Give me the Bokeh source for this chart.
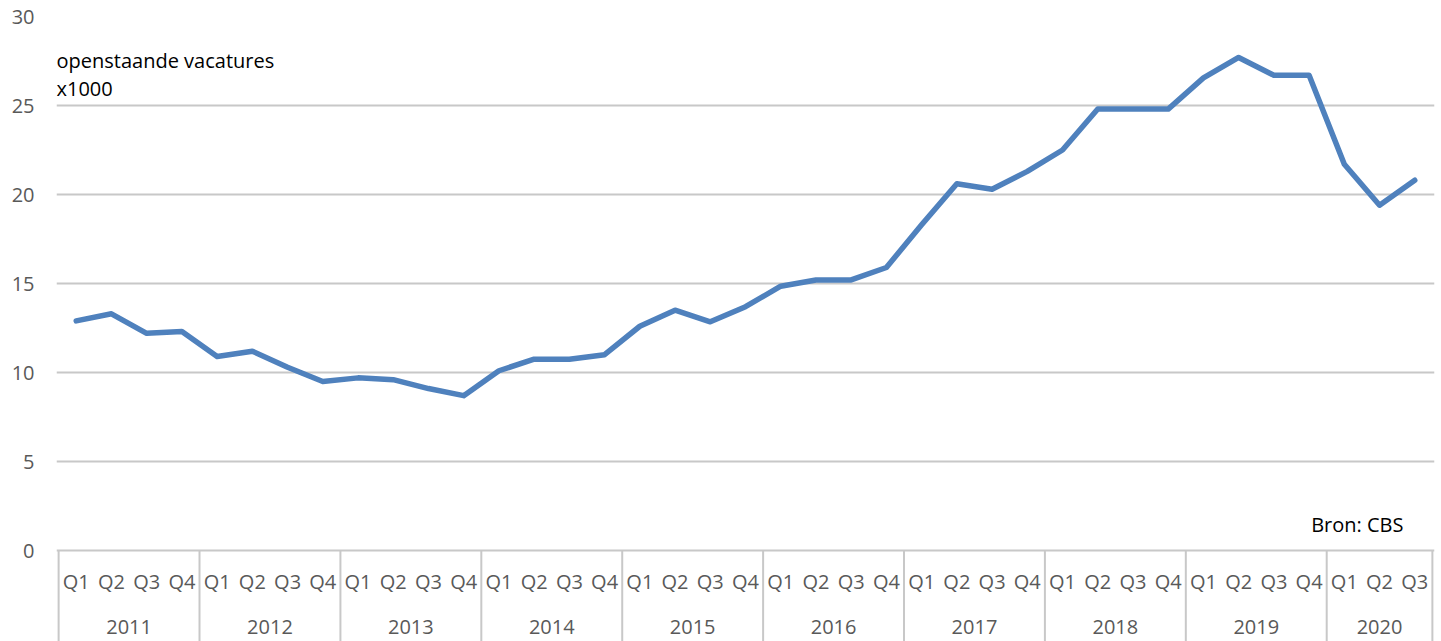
from bokeh.plotting import figure
from bokeh.models import FactorRange, Range1d, FixedTicker, Label
from bokeh.core.properties import value
from bokeh.embed import file_html
from bokeh.resources import INLINE

# ---- data ----
years = ["2011", "2012", "2013", "2014", "2015", "2016", "2017", "2018", "2019", "2020"]
quarters_per_year = [4, 4, 4, 4, 4, 4, 4, 4, 4, 3]
quarter_names = ["Q1", "Q2", "Q3", "Q4"]
vacatures = [
    12.9, 13.3, 12.2, 12.3,
    10.9, 11.2, 10.3, 9.5,
    9.7, 9.6, 9.1, 8.7,
    10.1, 10.75, 10.75, 11.0,
    12.6, 13.5, 12.85, 13.7,
    14.85, 15.2, 15.2, 15.9,
    18.3, 20.6, 20.3, 21.3,
    22.5, 24.8, 24.8, 24.8,
    26.55, 27.7, 26.7, 26.7,
    21.7, 19.4, 20.8,
]
y_ticks = [0, 5, 10, 15, 20, 25, 30]
annotation = ["openstaande vacatures", "x1000"]
source_text = "Bron: CBS"

factors = [(y, q) for y, n in zip(years, quarters_per_year) for q in quarter_names[:n]]
q_labels = [f[1] for f in factors]

# group boundaries in synthetic coordinates
bounds = [0]
for n in quarters_per_year:
    bounds.append(bounds[-1] + n)

FONT = "Open Sans"
GREY_TXT = "#595959"
GRID = "#c8c8c8"

pad = 0.06
y_bottom = -5.11
p = figure(
    width=1441, height=641,
    x_range=FactorRange(factors=factors, factor_padding=0, group_padding=0,
                        subgroup_padding=0, range_padding=pad,
                        range_padding_units="absolute"),
    y_range=Range1d(y_bottom, 30),
    x_axis_location=None,
    output_backend="svg", toolbar_location=None,
    min_border_left=56, min_border_right=7, min_border_top=16, min_border_bottom=0,
)
p.outline_line_color = None
p.background_fill_color = "white"
p.border_fill_color = "white"

# y axis
p.yaxis.ticker = FixedTicker(ticks=y_ticks)
p.yaxis.axis_line_color = None
p.yaxis.major_tick_line_color = None
p.yaxis.minor_tick_line_color = None
p.yaxis.major_tick_out = 0
p.yaxis.major_label_standoff = 22
p.yaxis.major_label_text_font = FONT
p.yaxis.major_label_text_font_size = "20px"
p.yaxis.major_label_text_color = GREY_TXT

p.xgrid.visible = False
p.ygrid.ticker = FixedTicker(ticks=y_ticks)
p.ygrid.grid_line_color = GRID
p.ygrid.grid_line_width = 2

# category table separators
nb = len(bounds)
p.segment(x0=bounds, x1=bounds, y0=[0] * nb, y1=[y_bottom] * nb,
          line_color=GRID, line_width=2)

# quarter labels
p.text(x=factors, y=[-1.75] * len(factors), text=q_labels,
       text_font=value(FONT), text_font_size="20px", text_color=GREY_TXT,
       text_align="center", text_baseline="middle")
# year labels
p.text(x=years, y=[-4.3] * len(years), text=years,
       text_font=value(FONT), text_font_size="20px", text_color=GREY_TXT,
       text_align="center", text_baseline="middle")

# data line
p.line(x=factors, y=vacatures, line_color="#4f81bd", line_width=5.5,
       line_join="round", line_cap="round")

# annotation text
p.add_layout(Label(x=-pad, y=27.52, x_offset=0, text=annotation[0],
                   text_font=FONT, text_font_size="20px", text_color="black",
                   text_align="left", text_baseline="alphabetic"))
p.add_layout(Label(x=-pad, y=25.95, x_offset=0, text=annotation[1],
                   text_font=FONT, text_font_size="20px", text_color="black",
                   text_align="left", text_baseline="alphabetic"))
p.add_layout(Label(x=38.18, y=1.48, text=source_text,
                   text_font=FONT, text_font_size="20px", text_color="black",
                   text_align="right", text_baseline="alphabetic"))

open("out.html", "w").write(file_html(p, INLINE))
